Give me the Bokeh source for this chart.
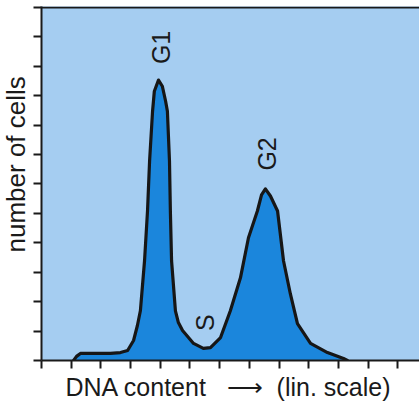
from bokeh.plotting import figure
from bokeh.models import Range1d, FixedTicker, Label, Span, Title
from bokeh.embed import file_html
from bokeh.resources import INLINE

# DNA content histogram (flow cytometry): relative DNA content vs. cell count
dna_content = [1.08, 1.18, 1.31, 1.65, 2.32, 2.66, 2.90, 3.10, 3.23, 3.33, 3.47,
               3.57, 3.64, 3.74, 3.80, 3.94, 4.07, 4.18, 4.24, 4.31, 4.34, 4.38,
               4.51, 4.61, 4.75, 5.12, 5.45, 5.69, 6.03, 6.36, 6.70, 6.97, 7.27,
               7.41, 7.54, 7.71, 7.95, 8.15, 8.38, 8.62, 9.06, 9.63, 10.17, 10.30]
cell_count = [0.0, 0.14, 0.24, 0.24, 0.24, 0.27, 0.34, 0.68, 1.19, 1.69, 3.39,
              5.08, 6.78, 8.47, 9.15, 9.53, 9.32, 8.81, 8.47, 6.78, 5.08, 3.39,
              1.69, 1.29, 1.02, 0.58, 0.41, 0.44, 0.78, 1.69, 2.81, 4.17, 5.08,
              5.63, 5.83, 5.59, 5.08, 3.39, 2.27, 1.25, 0.58, 0.27, 0.07, 0.0]

x_ticks = list(range(0, 13))
y_ticks = list(range(0, 13))

phase_labels = ["G1", "S", "G2"]
phase_x = [4.01, 5.52, 7.58]
phase_y = [10.64, 1.29, 7.02]

NB = "\u00a0"
x_title = "DNA content" + NB * 3 + "\u27f6" + NB * 2 + "(lin. scale)"
y_title = "number of cells"

FONT = "Liberation Sans"
INK = "#1a1a1a"
BG = "#a5cdf1"
FILL = "#1b86dc"

p = figure(width=419, height=403, output_backend="svg", toolbar_location=None,
           x_range=Range1d(0, 12.73), y_range=Range1d(0, 12.03),
           min_border_left=41, min_border_right=0, min_border_top=6,
           min_border_bottom=43)
p.background_fill_color = BG
p.border_fill_color = "white"
p.outline_line_color = None
p.grid.visible = False

for ax, ticks in ((p.xaxis, x_ticks), (p.yaxis, y_ticks)):
    ax.ticker = FixedTicker(ticks=ticks)
    ax.major_label_overrides = {t: "" for t in ticks}
    ax.major_label_standoff = 0
    ax.minor_tick_line_color = None
    ax.major_tick_in = 0
    ax.major_tick_out = 8
    ax.major_tick_line_width = 2
    ax.major_tick_line_color = INK
    ax.axis_line_width = 2
    ax.axis_line_color = INK

# top frame line
p.add_layout(Span(location=12, dimension="width", line_color=INK, line_width=2))

p.varea(x=dna_content, y1=0, y2=cell_count, fill_color=FILL)
p.line(x=dna_content, y=cell_count, line_color="#161616", line_width=3.2,
       line_join="round", line_cap="round")

for name, lx, ly in zip(phase_labels, phase_x, phase_y):
    p.add_layout(Label(x=lx, y=ly, text=name, angle=1.5708, text_align="center",
                       text_baseline="middle", text_font=FONT,
                       text_font_size="25px", text_color=INK))

# axis titles placed in the side panels
p.add_layout(Title(text=x_title, align="left", offset=24, standoff=5,
                   text_font=FONT, text_font_size="25px",
                   text_font_style="normal", text_color=INK), "below")
p.add_layout(Title(text=y_title, align="left", offset=108, standoff=1,
                   vertical_align="top",
                   text_font=FONT, text_font_size="26px",
                   text_font_style="normal", text_color=INK), "left")

open("out.html", "w").write(file_html(p, INLINE))
